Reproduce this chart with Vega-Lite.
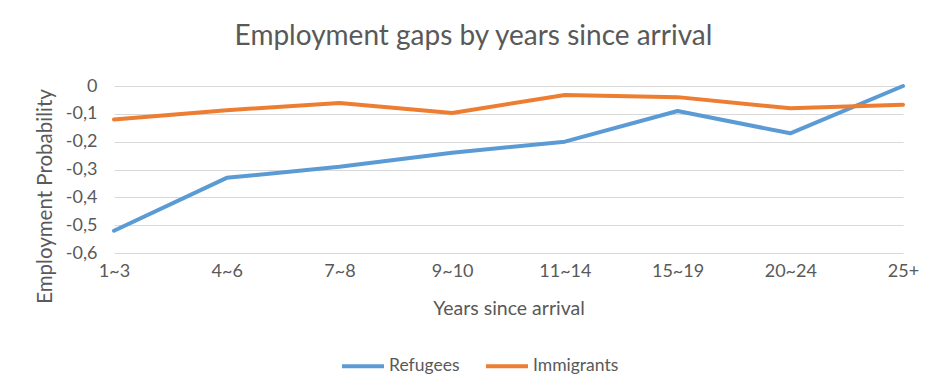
{
  "$schema": "https://vega.github.io/schema/vega-lite/v6.json",
  "autosize": {"type": "none"},
  "width": 789,
  "height": 167,
  "padding": {"left": 114, "top": 86, "right": 28, "bottom": 138},
  "background": "#ffffff",
  "config": {
    "locale": {"number": {"decimal": ",", "thousands": ".", "grouping": [3], "currency": ["", ""], "minus": "-"}},
    "font": "Lato",
    "view": {"stroke": null},
    "axis": {"labelColor": "#595959", "titleColor": "#595959", "labelFont": "Lato", "titleFont": "Lato", "titleFontWeight": "normal", "domain": false, "ticks": false, "gridColor": "#d9d9d9", "gridWidth": 1}
  },
  "title": {"text": "Employment gaps by years since arrival", "fontSize": 28, "font": "Lato", "fontWeight": "normal", "color": "#595959", "anchor": "middle", "dx": -35, "offset": 26},
  "data": {"values": [
    {"years": "1~3", "series": "Refugees", "value": -0.52},
    {"years": "4~6", "series": "Refugees", "value": -0.33},
    {"years": "7~8", "series": "Refugees", "value": -0.29},
    {"years": "9~10", "series": "Refugees", "value": -0.24},
    {"years": "11~14", "series": "Refugees", "value": -0.20},
    {"years": "15~19", "series": "Refugees", "value": -0.09},
    {"years": "20~24", "series": "Refugees", "value": -0.17},
    {"years": "25+", "series": "Refugees", "value": 0.0},
    {"years": "1~3", "series": "Immigrants", "value": -0.12},
    {"years": "4~6", "series": "Immigrants", "value": -0.087},
    {"years": "7~8", "series": "Immigrants", "value": -0.061},
    {"years": "9~10", "series": "Immigrants", "value": -0.097},
    {"years": "11~14", "series": "Immigrants", "value": -0.032},
    {"years": "15~19", "series": "Immigrants", "value": -0.04},
    {"years": "20~24", "series": "Immigrants", "value": -0.08},
    {"years": "25+", "series": "Immigrants", "value": -0.067}
  ]},
  "mark": {"type": "line", "strokeWidth": 4, "strokeCap": "round", "strokeJoin": "round"},
  "encoding": {
    "x": {"field": "years", "type": "ordinal", "sort": null,
      "scale": {"type": "point", "padding": 0},
      "axis": {"title": "Years since arrival", "labelAngle": 0, "labelFontSize": 18, "titleFontSize": 19.5, "labelPadding": 9, "titlePadding": 19, "grid": false}},
    "y": {"field": "value", "type": "quantitative",
      "scale": {"domain": [-0.6, 0], "nice": false, "zero": false},
      "axis": {"title": "Employment Probability", "values": [-0.6, -0.5, -0.4, -0.3, -0.2, -0.1, 0], "format": ".1~f", "labelFontSize": 18, "titleFontSize": 20.5, "labelPadding": 17, "titlePadding": 10, "titleY": 110}},
    "color": {"field": "series", "type": "nominal", "sort": ["Refugees", "Immigrants"],
      "scale": {"domain": ["Refugees", "Immigrants"], "range": ["#5B9BD5", "#ED7D31"]},
      "legend": {"title": null, "orient": "none", "legendX": 226, "legendY": 257, "direction": "horizontal", "symbolType": "stroke", "symbolSize": 1764, "symbolStrokeWidth": 4, "labelFontSize": 17.5, "labelColor": "#595959", "labelFont": "Lato", "columnPadding": 18, "labelOffset": 3}}
  }
}
